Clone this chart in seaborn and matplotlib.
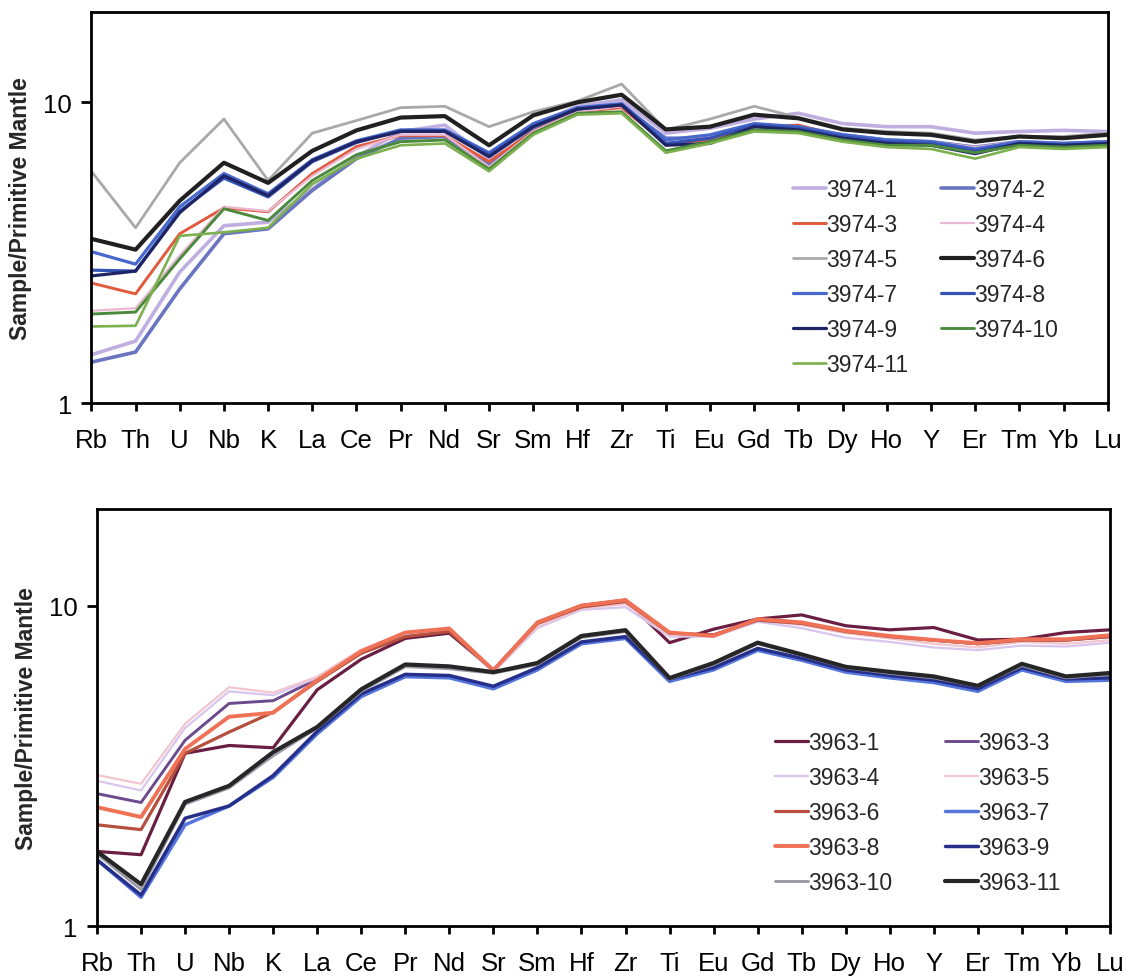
import matplotlib
matplotlib.use("Agg")
import matplotlib.pyplot as plt
import matplotlib.ticker as mticker
from matplotlib.lines import Line2D
import seaborn as sns
import pandas as pd

# Trace elements in spider-diagram order
elements = ["Rb", "Th", "U", "Nb", "K", "La", "Ce", "Pr", "Nd", "Sr", "Sm", "Hf",
            "Zr", "Ti", "Eu", "Gd", "Tb", "Dy", "Ho", "Y", "Er", "Tm", "Yb", "Lu"]

# Suite 3974, primitive-mantle normalised
s3974_1 = [1.45, 1.61, 2.73, 3.89, 4.0, 5.15, 6.6, 8.0, 8.4, 6.5, 8.4, 9.7, 10.2, 7.9, 8.2, 8.8, 9.2, 8.5, 8.3, 8.3, 7.9, 8.0, 8.07, 8.0]
s3974_2 = [1.37, 1.48, 2.4, 3.66, 3.8, 5.1, 6.5, 7.6, 7.7, 6.2, 8.1, 9.4, 9.7, 7.6, 7.6, 8.3, 8.3, 7.8, 7.5, 7.4, 7.1, 7.4, 7.3, 7.4]
s3974_3 = [2.51, 2.31, 3.66, 4.46, 4.33, 5.8, 7.13, 7.76, 7.76, 6.35, 8.0, 9.3, 9.6, 7.3, 7.5, 8.3, 8.4, 7.7, 7.3, 7.3, 6.9, 7.4, 7.2, 7.4]
s3974_4 = [2.03, 2.07, 3.1, 4.5, 4.35, 5.7, 7.0, 7.8, 7.8, 6.1, 8.0, 9.3, 9.7, 7.5, 7.7, 8.4, 8.3, 7.8, 7.5, 7.4, 7.1, 7.4, 7.3, 7.4]
s3974_5 = [5.9, 3.83, 6.3, 8.8, 5.5, 7.9, 8.7, 9.6, 9.7, 8.3, 9.3, 10.1, 11.5, 8.1, 8.8, 9.7, 8.9, 8.2, 8.0, 7.9, 7.5, 7.7, 7.7, 7.9]
s3974_6 = [3.52, 3.24, 4.71, 6.3, 5.4, 6.9, 8.07, 8.9, 9.0, 7.2, 9.05, 10.0, 10.6, 8.13, 8.3, 9.1, 8.85, 8.13, 7.9, 7.8, 7.4, 7.7, 7.6, 7.8]
s3974_7 = [3.19, 2.9, 4.5, 5.8, 4.97, 6.45, 7.45, 8.1, 8.1, 6.8, 8.5, 9.6, 9.9, 7.5, 7.8, 8.5, 8.3, 7.8, 7.5, 7.4, 7.0, 7.4, 7.3, 7.4]
s3974_8 = [2.77, 2.75, 4.35, 5.6, 4.85, 6.35, 7.35, 8.05, 8.05, 6.7, 8.35, 9.5, 9.8, 7.3, 7.6, 8.4, 8.2, 7.7, 7.4, 7.3, 6.9, 7.3, 7.2, 7.3]
s3974_9 = [2.65, 2.75, 4.3, 5.7, 4.9, 6.4, 7.4, 8.0, 8.0, 6.6, 8.3, 9.5, 9.8, 7.2, 7.3, 8.3, 8.1, 7.6, 7.3, 7.2, 6.75, 7.3, 7.2, 7.3]
s3974_10 = [1.98, 2.01, 3.02, 4.43, 4.05, 5.5, 6.7, 7.4, 7.5, 6.0, 7.9, 9.2, 9.3, 6.9, 7.4, 8.1, 8.0, 7.5, 7.2, 7.2, 6.8, 7.2, 7.1, 7.2]
s3974_11 = [1.80, 1.81, 3.6, 3.7, 3.83, 5.35, 6.5, 7.2, 7.3, 5.9, 7.8, 9.1, 9.2, 6.8, 7.3, 8.0, 7.9, 7.4, 7.1, 7.0, 6.5, 7.1, 7.0, 7.1]

# Suite 3963, primitive-mantle normalised
s3963_1 = [1.71, 1.67, 3.46, 3.66, 3.6, 5.46, 6.8, 7.9, 8.2, 6.28, 8.86, 10.0, 10.4, 7.66, 8.44, 9.08, 9.35, 8.65, 8.4, 8.54, 7.81, 7.85, 8.24, 8.4]
s3963_3 = [2.59, 2.43, 3.8, 4.95, 5.05, 5.9, 7.2, 8.1, 8.4, 6.28, 8.8, 9.9, 10.3, 8.1, 8.1, 9.0, 8.8, 8.3, 8.0, 7.8, 7.6, 7.8, 7.8, 8.0]
s3963_4 = [2.84, 2.65, 4.15, 5.4, 5.25, 5.95, 7.25, 8.1, 8.3, 6.2, 8.5, 9.7, 9.88, 8.0, 8.0, 8.9, 8.5, 7.94, 7.7, 7.4, 7.26, 7.5, 7.45, 7.66]
s3963_5 = [2.96, 2.78, 4.28, 5.56, 5.35, 6.0, 7.3, 8.2, 8.4, 6.25, 8.6, 9.8, 10.1, 8.1, 8.1, 9.0, 8.7, 8.2, 7.9, 7.6, 7.4, 7.7, 7.6, 7.8]
s3963_6 = [2.07, 2.0, 3.46, 4.03, 4.65, 5.8, 7.1, 8.0, 8.3, 6.28, 8.8, 9.9, 10.3, 8.2, 8.1, 9.0, 8.8, 8.3, 8.0, 7.8, 7.6, 7.8, 7.8, 8.0]
s3963_7 = [1.61, 1.23, 2.07, 2.37, 2.91, 3.98, 5.2, 6.0, 5.95, 5.5, 6.3, 7.6, 7.9, 5.8, 6.3, 7.25, 6.75, 6.2, 5.95, 5.75, 5.4, 6.3, 5.8, 5.85]
s3963_8 = [2.35, 2.19, 3.57, 4.5, 4.63, 5.85, 7.2, 8.24, 8.48, 6.28, 8.86, 10.0, 10.4, 8.24, 8.04, 9.08, 8.86, 8.34, 8.04, 7.81, 7.63, 7.85, 7.85, 8.08]
s3963_9 = [1.61, 1.25, 2.17, 2.37, 2.95, 4.05, 5.3, 6.1, 6.05, 5.6, 6.4, 7.7, 8.0, 5.9, 6.4, 7.35, 6.85, 6.3, 6.05, 5.85, 5.5, 6.4, 5.9, 5.95]
s3963_10 = [1.68, 1.3, 2.4, 2.7, 3.4, 4.15, 5.4, 6.45, 6.35, 6.15, 6.55, 7.95, 8.3, 5.9, 6.55, 7.6, 7.0, 6.4, 6.15, 5.95, 5.6, 6.5, 5.95, 6.1]
s3963_11 = [1.71, 1.35, 2.44, 2.74, 3.49, 4.18, 5.48, 6.55, 6.46, 6.2, 6.62, 8.04, 8.38, 5.94, 6.62, 7.66, 7.04, 6.44, 6.21, 6.01, 5.62, 6.58, 6.01, 6.16]

top_samples = {
    "3974-1": s3974_1, "3974-2": s3974_2, "3974-3": s3974_3, "3974-4": s3974_4,
    "3974-5": s3974_5, "3974-6": s3974_6, "3974-7": s3974_7, "3974-8": s3974_8,
    "3974-9": s3974_9, "3974-10": s3974_10, "3974-11": s3974_11,
}
bottom_samples = {
    "3963-1": s3963_1, "3963-3": s3963_3, "3963-4": s3963_4, "3963-5": s3963_5,
    "3963-6": s3963_6, "3963-7": s3963_7, "3963-8": s3963_8, "3963-9": s3963_9,
    "3963-10": s3963_10, "3963-11": s3963_11,
}

top_colors = {
    "3974-1": "#bfaee0", "3974-2": "#6a75c2", "3974-3": "#e05a3c", "3974-4": "#eab8d2",
    "3974-5": "#a9a9ab", "3974-6": "#202020", "3974-7": "#4768cc", "3974-8": "#3553b4",
    "3974-9": "#1e2466", "3974-10": "#4b8a3c", "3974-11": "#7db04e",
}
top_widths = {
    "3974-1": 2.6, "3974-2": 2.6, "3974-3": 2.1, "3974-4": 1.6, "3974-5": 2.0,
    "3974-6": 3.0, "3974-7": 2.3, "3974-8": 2.3, "3974-9": 2.3, "3974-10": 2.1,
    "3974-11": 1.9,
}
bottom_colors = {
    "3963-1": "#6a1f42", "3963-3": "#6b4a8e", "3963-4": "#d8c6ee", "3963-5": "#f1c6cf",
    "3963-6": "#b5503f", "3963-7": "#5577dd", "3963-8": "#ef7256", "3963-9": "#26308a",
    "3963-10": "#9c9ca8", "3963-11": "#262626",
}
bottom_widths = {
    "3963-1": 2.3, "3963-3": 2.1, "3963-4": 1.6, "3963-5": 1.6, "3963-6": 2.3,
    "3963-7": 2.5, "3963-8": 2.8, "3963-9": 2.5, "3963-10": 2.1, "3963-11": 3.0,
}


def long_table(samples):
    rows = []
    for name, vals in samples.items():
        for el, v in zip(elements, vals):
            rows.append({"sample": name, "element": el, "value": v})
    return pd.DataFrame(rows)


sns.set_theme(style="ticks")
plt.rcParams["font.family"] = ["Liberation Sans", "DejaVu Sans"]

fig = plt.figure(figsize=(11.28, 9.79), dpi=100)
ax_top = fig.add_axes([0.081, 0.587, 0.901, 0.400])
ax_bot = fig.add_axes([0.086, 0.053, 0.898, 0.426])


def row_major(names, ncol=2):
    # legend entries read across rows; matplotlib fills down columns
    return [n for c in range(ncol) for n in names[c::ncol]]


def draw_panel(ax, samples, colors, widths, legend_anchor, colspace):
    df = long_table(samples)
    sns.lineplot(data=df, x="element", y="value", hue="sample", size="sample",
                 palette=colors, sizes=widths, hue_order=list(samples),
                 size_order=list(samples), sort=False, estimator=None,
                 legend=False, ax=ax)
    ax.set_yscale("log")
    ax.set_ylim(1, 20)
    ax.set_xlim(0, len(elements) - 1)
    ax.yaxis.set_major_locator(mticker.FixedLocator([1, 10]))
    ax.yaxis.set_major_formatter(mticker.FixedFormatter(["1", "10"]))
    ax.yaxis.set_minor_locator(mticker.NullLocator())
    ax.set_xlabel("")
    ax.set_ylabel("Sample/Primitive Mantle", fontsize=16.5, fontweight="bold",
                  labelpad=8)
    ax.tick_params(axis="x", direction="out", length=6, width=2, pad=12,
                   labelsize=18.5, colors="black")
    ax.tick_params(axis="y", direction="out", length=7, width=2, pad=7,
                   labelsize=18.5, colors="black")
    for sp in ax.spines.values():
        sp.set_visible(True)
        sp.set_linewidth(2.0)
        sp.set_color("black")
    order = row_major(list(samples))
    handles = [Line2D([], [], color=colors[n], lw=widths[n]) for n in order]
    ax.legend(handles, order, ncol=2, loc="upper left",
              bbox_to_anchor=legend_anchor, frameon=False, fontsize=16.5,
              handlelength=1.45, handletextpad=0.0, columnspacing=colspace,
              labelspacing=0.52, borderpad=0, borderaxespad=0)


draw_panel(ax_top, top_samples, top_colors, top_widths, (0.69, 0.575), 1.45)
draw_panel(ax_bot, bottom_samples, bottom_colors, bottom_widths, (0.669, 0.468), 2.3)

fig.savefig("out.png", dpi=100)
